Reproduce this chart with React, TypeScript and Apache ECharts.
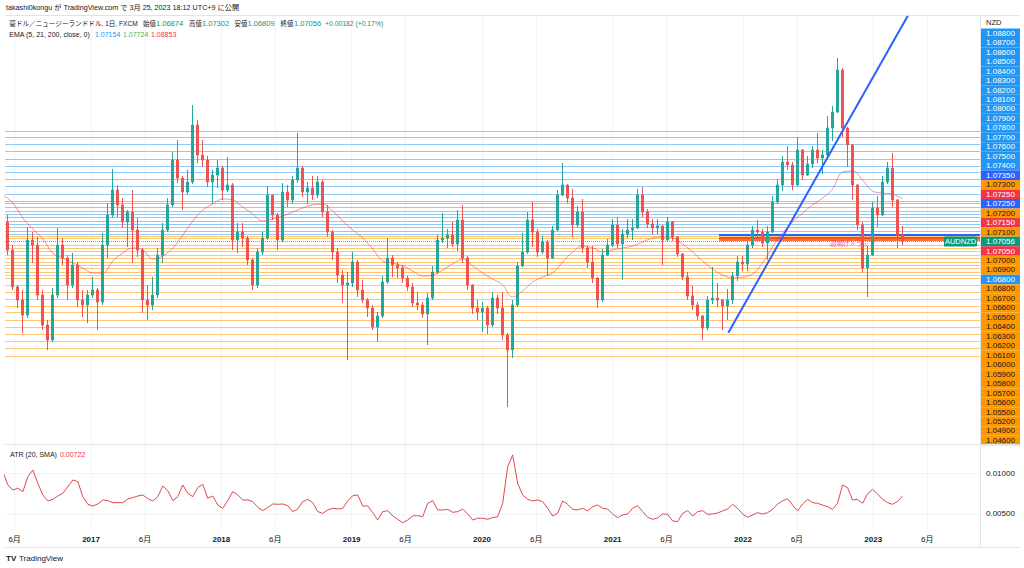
import React, { useEffect, useRef } from "react";
import * as echarts from "echarts";

// ---------- time frame ----------
const X_MIN = "2016-05-05";
const X_MAX = "2023-10-27";
const CANDLE_START = "2016-04-29";
const CANDLE_STEP_DAYS = 14;
const TIME_TICKS = [
  "2016-06-01", "2017-01-01", "2017-06-01", "2018-01-01", "2018-06-01",
  "2019-01-01", "2019-06-01", "2020-01-01", "2020-06-01", "2021-01-01",
  "2021-06-01", "2022-01-01", "2022-06-01", "2023-01-01", "2023-06-01",
];

// ---------- price data (biweekly candles) ----------
const OPEN = [
  1.0890, 1.0782, 1.0670, 1.0522, 1.0470, 1.0410, 1.0710, 1.0690, 1.0490, 1.0370,
  1.0310, 1.0490, 1.0690, 1.0638, 1.0530, 1.0610, 1.0470, 1.0450, 1.0490, 1.0510,
  1.0462, 1.0690, 1.0810, 1.0910, 1.0850, 1.0782, 1.0822, 1.0750, 1.0670, 1.0470,
  1.0450, 1.0490, 1.0650, 1.0750, 1.0850, 1.1030, 1.0958, 1.0902, 1.0942, 1.1170,
  1.1050, 1.1030, 1.0942, 1.0970, 1.0998, 1.0910, 1.0930, 1.0710, 1.0742, 1.0718,
  1.0630, 1.0530, 1.0662, 1.0718, 1.0890, 1.0810, 1.0710, 1.0902, 1.0870, 1.0950,
  1.0998, 1.0902, 1.0918, 1.0890, 1.0942, 1.0822, 1.0742, 1.0662, 1.0570, 1.0530,
  1.0538, 1.0622, 1.0510, 1.0470, 1.0438, 1.0362, 1.0406, 1.0542, 1.0638, 1.0610,
  1.0598, 1.0558, 1.0522, 1.0458, 1.0450, 1.0414, 1.0478, 1.0582, 1.0710, 1.0718,
  1.0730, 1.0694, 1.0790, 1.0638, 1.0530, 1.0438, 1.0422, 1.0438, 1.0370, 1.0478,
  1.0438, 1.0330, 1.0270, 1.0450, 1.0606, 1.0662, 1.0790, 1.0742, 1.0662, 1.0702,
  1.0638, 1.0750, 1.0890, 1.0930, 1.0878, 1.0770, 1.0822, 1.0678, 1.0622, 1.0558,
  1.0470, 1.0650, 1.0690, 1.0770, 1.0694, 1.0734, 1.0750, 1.0758, 1.0890, 1.0822,
  1.0774, 1.0758, 1.0766, 1.0710, 1.0782, 1.0722, 1.0654, 1.0562, 1.0486, 1.0450,
  1.0406, 1.0358, 1.0470, 1.0478, 1.0470, 1.0446, 1.0470, 1.0566, 1.0622, 1.0614,
  1.0690, 1.0750, 1.0742, 1.0698, 1.0742, 1.0862, 1.0930, 1.1022, 1.1010, 1.0930,
  1.1070, 1.0970, 1.1014, 1.1070, 1.1038, 1.1050, 1.1158, 1.1222, 1.1390, 1.1158,
  1.1090, 1.0930, 1.0770, 1.0598, 1.0650, 1.0838, 1.0810, 1.0942, 1.0998, 1.0870,
  1.0730,
];
const CLOSE = [
  1.0782, 1.0670, 1.0522, 1.0470, 1.0410, 1.0710, 1.0690, 1.0490, 1.0370, 1.0310,
  1.0490, 1.0690, 1.0638, 1.0530, 1.0610, 1.0470, 1.0450, 1.0490, 1.0510, 1.0462,
  1.0690, 1.0810, 1.0910, 1.0850, 1.0782, 1.0822, 1.0750, 1.0670, 1.0470, 1.0450,
  1.0490, 1.0650, 1.0750, 1.0850, 1.1030, 1.0958, 1.0902, 1.0942, 1.1170, 1.1050,
  1.1030, 1.0942, 1.0970, 1.0998, 1.0910, 1.0930, 1.0710, 1.0742, 1.0718, 1.0630,
  1.0530, 1.0662, 1.0718, 1.0890, 1.0810, 1.0710, 1.0902, 1.0870, 1.0950, 1.0998,
  1.0902, 1.0918, 1.0890, 1.0942, 1.0822, 1.0742, 1.0662, 1.0570, 1.0530, 1.0538,
  1.0622, 1.0510, 1.0470, 1.0438, 1.0362, 1.0406, 1.0542, 1.0638, 1.0610, 1.0598,
  1.0558, 1.0522, 1.0458, 1.0450, 1.0414, 1.0478, 1.0582, 1.0710, 1.0718, 1.0730,
  1.0694, 1.0790, 1.0638, 1.0530, 1.0438, 1.0422, 1.0438, 1.0370, 1.0478, 1.0438,
  1.0330, 1.0270, 1.0450, 1.0606, 1.0662, 1.0790, 1.0742, 1.0662, 1.0702, 1.0638,
  1.0750, 1.0890, 1.0930, 1.0878, 1.0770, 1.0822, 1.0678, 1.0622, 1.0558, 1.0470,
  1.0650, 1.0690, 1.0770, 1.0694, 1.0734, 1.0750, 1.0758, 1.0890, 1.0822, 1.0774,
  1.0758, 1.0766, 1.0710, 1.0782, 1.0722, 1.0654, 1.0562, 1.0486, 1.0450, 1.0406,
  1.0358, 1.0470, 1.0478, 1.0470, 1.0446, 1.0470, 1.0566, 1.0622, 1.0614, 1.0690,
  1.0750, 1.0742, 1.0698, 1.0742, 1.0862, 1.0930, 1.1022, 1.1010, 1.0930, 1.1070,
  1.0970, 1.1014, 1.1070, 1.1038, 1.1050, 1.1158, 1.1222, 1.1390, 1.1158, 1.1090,
  1.0930, 1.0770, 1.0598, 1.0650, 1.0838, 1.0810, 1.0942, 1.0998, 1.0870, 1.0730,
  1.0706,
];
const HIGH = [
  1.0930, 1.0810, 1.0690, 1.0530, 1.0510, 1.0762, 1.0742, 1.0722, 1.0510, 1.0390,
  1.0518, 1.0758, 1.0718, 1.0650, 1.0658, 1.0622, 1.0510, 1.0510, 1.0562, 1.0518,
  1.0738, 1.0858, 1.0994, 1.0930, 1.0878, 1.0830, 1.0910, 1.0798, 1.0678, 1.0530,
  1.0562, 1.0678, 1.0778, 1.0878, 1.1062, 1.1110, 1.0966, 1.0990, 1.1250, 1.1190,
  1.1110, 1.1046, 1.0990, 1.1030, 1.1006, 1.1042, 1.0938, 1.0778, 1.0778, 1.0726,
  1.0638, 1.0678, 1.0742, 1.0926, 1.0890, 1.0818, 1.0938, 1.0930, 1.0966, 1.1138,
  1.1006, 1.0942, 1.0966, 1.0966, 1.0950, 1.0850, 1.0750, 1.0678, 1.0590, 1.0582,
  1.0662, 1.0630, 1.0550, 1.0478, 1.0450, 1.0422, 1.0566, 1.0718, 1.0650, 1.0622,
  1.0610, 1.0566, 1.0538, 1.0502, 1.0462, 1.0498, 1.0606, 1.0730, 1.0818, 1.0754,
  1.0782, 1.0830, 1.0850, 1.0646, 1.0534, 1.0470, 1.0462, 1.0446, 1.0502, 1.0490,
  1.0502, 1.0338, 1.0470, 1.0622, 1.0738, 1.0822, 1.0862, 1.0754, 1.0726, 1.0710,
  1.0766, 1.0910, 1.1018, 1.0934, 1.0914, 1.0846, 1.0874, 1.0686, 1.0686, 1.0562,
  1.0674, 1.0714, 1.0794, 1.0802, 1.0754, 1.0794, 1.0794, 1.0914, 1.0922, 1.0834,
  1.0794, 1.0794, 1.0770, 1.0802, 1.0786, 1.0726, 1.0658, 1.0582, 1.0526, 1.0462,
  1.0410, 1.0486, 1.0602, 1.0538, 1.0474, 1.0514, 1.0582, 1.0646, 1.0646, 1.0714,
  1.0766, 1.0790, 1.0754, 1.0766, 1.0886, 1.0954, 1.1046, 1.1086, 1.1022, 1.1122,
  1.1074, 1.1046, 1.1086, 1.1138, 1.1070, 1.1206, 1.1246, 1.1438, 1.1398, 1.1162,
  1.1094, 1.0934, 1.0782, 1.0686, 1.0862, 1.0886, 1.0966, 1.1022, 1.1058, 1.0874,
  1.0766,
];
const LOW = [
  1.0758, 1.0650, 1.0510, 1.0438, 1.0338, 1.0398, 1.0618, 1.0470, 1.0350, 1.0270,
  1.0302, 1.0478, 1.0610, 1.0470, 1.0518, 1.0442, 1.0402, 1.0378, 1.0478, 1.0350,
  1.0450, 1.0638, 1.0798, 1.0802, 1.0758, 1.0682, 1.0618, 1.0642, 1.0418, 1.0390,
  1.0430, 1.0478, 1.0618, 1.0742, 1.0842, 1.0938, 1.0830, 1.0894, 1.0934, 1.1018,
  1.1002, 1.0922, 1.0858, 1.0918, 1.0870, 1.0902, 1.0670, 1.0658, 1.0682, 1.0610,
  1.0510, 1.0518, 1.0650, 1.0710, 1.0790, 1.0670, 1.0702, 1.0842, 1.0854, 1.0938,
  1.0882, 1.0854, 1.0870, 1.0878, 1.0802, 1.0722, 1.0630, 1.0538, 1.0458, 1.0230,
  1.0522, 1.0482, 1.0458, 1.0402, 1.0350, 1.0302, 1.0398, 1.0534, 1.0562, 1.0558,
  1.0538, 1.0506, 1.0442, 1.0430, 1.0398, 1.0290, 1.0470, 1.0574, 1.0698, 1.0678,
  1.0682, 1.0666, 1.0618, 1.0510, 1.0414, 1.0390, 1.0342, 1.0334, 1.0362, 1.0414,
  1.0310, 1.0042, 1.0238, 1.0442, 1.0602, 1.0654, 1.0682, 1.0642, 1.0654, 1.0570,
  1.0634, 1.0746, 1.0886, 1.0858, 1.0722, 1.0758, 1.0658, 1.0598, 1.0538, 1.0438,
  1.0462, 1.0646, 1.0682, 1.0678, 1.0550, 1.0718, 1.0710, 1.0754, 1.0802, 1.0758,
  1.0734, 1.0734, 1.0610, 1.0706, 1.0706, 1.0642, 1.0550, 1.0470, 1.0430, 1.0390,
  1.0310, 1.0350, 1.0454, 1.0442, 1.0350, 1.0390, 1.0454, 1.0546, 1.0586, 1.0586,
  1.0678, 1.0722, 1.0682, 1.0630, 1.0738, 1.0854, 1.0906, 1.0990, 1.0910, 1.0926,
  1.0950, 1.0966, 1.0998, 1.1018, 1.0974, 1.1046, 1.1106, 1.1218, 1.1122, 1.1002,
  1.0870, 1.0750, 1.0578, 1.0482, 1.0646, 1.0762, 1.0806, 1.0934, 1.0842, 1.0678,
  1.0690,
];
// EMA 200, one value for every second candle
const EMA200 = [
  1.0890, 1.0858, 1.0798, 1.0754, 1.0714, 1.0658, 1.0638, 1.0618, 1.0598, 1.0578,
  1.0578, 1.0626, 1.0658, 1.0678, 1.0670, 1.0634, 1.0646, 1.0678, 1.0730, 1.0786,
  1.0830, 1.0854, 1.0874, 1.0870, 1.0842, 1.0814, 1.0786, 1.0794, 1.0806, 1.0822,
  1.0838, 1.0850, 1.0854, 1.0826, 1.0786, 1.0750, 1.0718, 1.0674, 1.0626, 1.0618,
  1.0606, 1.0586, 1.0566, 1.0570, 1.0590, 1.0614, 1.0634, 1.0606, 1.0578, 1.0554,
  1.0530, 1.0482, 1.0506, 1.0542, 1.0562, 1.0578, 1.0622, 1.0662, 1.0686, 1.0678,
  1.0662, 1.0670, 1.0678, 1.0686, 1.0702, 1.0718, 1.0722, 1.0718, 1.0694, 1.0662,
  1.0626, 1.0594, 1.0570, 1.0558, 1.0562, 1.0574, 1.0618, 1.0682, 1.0738, 1.0782,
  1.0818, 1.0850, 1.0878, 1.0914, 1.0982, 1.0986, 1.0950, 1.0906, 1.0898, 1.0894,
  1.0874,
];
// ATR (20, SMA), one value per candle
const ATR20 = [
  0.0102, 0.00857, 0.00795, 0.00816, 0.00775, 0.00959, 0.0104, 0.00877, 0.00734, 0.0066,
  0.0068, 0.00721, 0.00754, 0.00836, 0.00918, 0.00898, 0.00713, 0.00619, 0.00598, 0.00623,
  0.00672, 0.00664, 0.00639, 0.00639, 0.00639, 0.00684, 0.00701, 0.00721, 0.00734, 0.00688,
  0.0066, 0.00713, 0.00844, 0.00787, 0.00664, 0.00713, 0.00857, 0.00754, 0.00713, 0.00824,
  0.00865, 0.00693, 0.00721, 0.0061, 0.0057, 0.00664, 0.00775, 0.00734, 0.00672, 0.00672,
  0.00652, 0.00582, 0.00541, 0.00578, 0.00623, 0.00619, 0.00623, 0.00602, 0.00529, 0.00561,
  0.00652, 0.0068, 0.00639, 0.00529, 0.00508, 0.00549, 0.0057, 0.00561, 0.0057, 0.0066,
  0.00725, 0.00734, 0.00598, 0.00598, 0.00516, 0.00426, 0.00529, 0.00541, 0.00475, 0.00434,
  0.00393, 0.00426, 0.00475, 0.00479, 0.00467, 0.00631, 0.00664, 0.00549, 0.00549, 0.00557,
  0.0052, 0.00529, 0.00561, 0.005, 0.00426, 0.00447, 0.00447, 0.00434, 0.00455, 0.00467,
  0.00631, 0.01082, 0.01226, 0.00877, 0.00734, 0.0068, 0.0066, 0.00672, 0.00652, 0.0057,
  0.00475, 0.00508, 0.0066, 0.00619, 0.00557, 0.00549, 0.0057, 0.00537, 0.0059, 0.0061,
  0.0057, 0.00561, 0.005, 0.00455, 0.00488, 0.005, 0.0057, 0.00602, 0.00529, 0.00459,
  0.00434, 0.00451, 0.005, 0.00496, 0.00414, 0.00406, 0.00508, 0.00541, 0.00475, 0.00529,
  0.00541, 0.00496, 0.005, 0.00512, 0.00537, 0.00561, 0.00619, 0.0057, 0.005, 0.00459,
  0.00488, 0.00516, 0.005, 0.00516, 0.00557, 0.00623, 0.0066, 0.00688, 0.0061, 0.00537,
  0.00623, 0.0068, 0.00639, 0.00631, 0.0061, 0.0059, 0.00557, 0.00631, 0.00857, 0.00824,
  0.00672, 0.0068, 0.00631, 0.00746, 0.00803, 0.00746, 0.0068, 0.00639, 0.00619, 0.00652,
  0.00722,
];
const ATR_GRID = [0.005, 0.01];

// ---------- drawings ----------
const BLUE_LEVELS = [
  1.1147, 1.1119, 1.1093, 1.1063, 1.1034, 1.1006, 1.0979, 1.0953, 1.0923, 1.0895,
  1.0867, 1.0856, 1.0841, 1.0827, 1.0814, 1.0801, 1.0787, 1.0774, 1.0761, 1.0747, 1.0734,
];
const ORANGE_LEVELS = [
  1.0727, 1.0717, 1.0690, 1.0677, 1.0663, 1.0650, 1.0637, 1.0623, 1.0610, 1.0597,
  1.0583, 1.0570, 1.0557, 1.0530, 1.0503, 1.0474, 1.0446, 1.0419, 1.0390, 1.0362,
  1.0333, 1.0305, 1.0277, 1.0247,
];
const ZONE_START = "2021-10-26";
const ZONE_LEVELS = [1.0730, 1.0721, 1.0711];
const ZONE_COLORS = ["#2962ff", "#f4511e", "#ff7043"];
const TREND_DATES = ["2021-11-21", "2023-04-09"];
const TREND_PRICES = [1.0339, 1.1610];
const LAST_PRICE = 1.07056;

// ---------- price scale tags ----------
const SCALE_LABELS = [
  "1.08800", "1.08700", "1.08600", "1.08500", "1.08400", "1.08300", "1.08200", "1.08100",
  "1.08000", "1.07900", "1.07800", "1.07700", "1.07600", "1.07500", "1.07400", "1.07350",
  "1.07300", "1.07250", "1.07250", "1.07200", "1.07150", "1.07100", "1.07056", "1.07050",
  "1.07000", "1.06900", "1.06800", "1.06800", "1.06700", "1.06600", "1.06500", "1.06400",
  "1.06300", "1.06200", "1.06100", "1.06000", "1.05900", "1.05800", "1.05700", "1.05600",
  "1.05500", "1.05200", "1.04900", "1.04600",
];
const SCALE_KINDS = [
  "b", "b", "b", "b", "b", "b", "b", "b", "b", "b", "b", "b", "b", "b", "b", "d",
  "o", "r", "d", "o", "r", "o", "g", "r", "o", "o", "b", "o", "o", "o", "o", "o",
  "o", "o", "o", "o", "o", "o", "o", "o", "o", "o", "o", "o",
];

// ---------- texts ----------
const PUBLISH_TEXT = "takashi0kongu が TradingView.com で 3月 25, 2023 18:12 UTC+9 に公開";
const SYMBOL_TEXT = "豪ドル／ニュージーランドドル, 1日, FXCM";
const OHLC_NAMES = ["始値", "高値", "安値", "終値"];
const OHLC_VALUES = ["1.06874", "1.07302", "1.06809", "1.07056"];
const CHANGE_TEXT = "+0.00182 (+0.17%)";
const EMA_TEXT = "EMA (5, 21, 200, close, 0)";
const EMA_VALUES = ["1.07154", "1.07724", "1.08853"];
const EMA_COLORS = ["#2196f3", "#4caf50", "#f23645"];
const ATR_TEXT = "ATR (20, SMA)";
const ATR_LAST = "0.00722";
const NOTE_TEXT = "週明けトラップ";

const FONT = "'Liberation Sans', Arial, 'Noto Sans CJK JP', sans-serif";
const UP = "#26a69a";
const DOWN = "#ef5350";
const TEXT = "#131722";
const VALUE_GREEN = "#089981";

const utc = (s: string) => {
  const [y, m, d] = s.split("-").map(Number);
  return Date.UTC(y, m - 1, d);
};

export default function App() {
  const ref = useRef<HTMLDivElement>(null);

  useEffect(() => {
    if (!ref.current) return;
    const chart = echarts.init(ref.current, undefined, { renderer: "svg" });

    const DAY = 86400000;
    const start = utc(CANDLE_START);
    const dates = OPEN.map((_, i) => start + i * CANDLE_STEP_DAYS * DAY);
    const halfDates = dates.filter((_, i) => i % 2 === 0);
    const xMin = utc(X_MIN);
    const xMax = utc(X_MAX);
    const ticks = TIME_TICKS.map(utc);

    const candleData = dates.map((t, i) => [t, OPEN[i], CLOSE[i], LOW[i], HIGH[i]]);
    const emaData = halfDates.map((t, i) => [t, EMA200[i]]);
    const atrData = dates.map((t, i) => [t, ATR20[i]]);
    const trendData = TREND_DATES.map((d, i) => [utc(d), TREND_PRICES[i]]);

    const levelLines: any[] = [
      ...BLUE_LEVELS.map((v) => ({ yAxis: v, lineStyle: { color: "rgba(33,150,243,0.5)", width: 1, type: "solid" } })),
      ...ORANGE_LEVELS.map((v) => ({ yAxis: v, lineStyle: { color: "rgba(255,152,0,0.55)", width: 1, type: "solid" } })),
      { yAxis: LAST_PRICE, lineStyle: { color: "#9598a1", width: 1, type: "dotted" } },
      ...ZONE_LEVELS.map((v, i) => [
        { coord: [utc(ZONE_START), v], lineStyle: { color: ZONE_COLORS[i], width: 2, type: "solid" } },
        { coord: [xMax, v] },
      ]),
    ];

    const scaleRich: any = {};
    const kinds: Record<string, [string, string]> = {
      b: ["#2196f3", "#ffffff"],
      d: ["#2962ff", "#ffffff"],
      o: ["#ff9800", TEXT],
      r: ["#f23645", "#ffffff"],
      g: ["#089981", "#ffffff"],
    };
    Object.keys(kinds).forEach((k) => {
      scaleRich[k] = {
        backgroundColor: kinds[k][0],
        color: kinds[k][1],
        width: 39,
        height: 9.47,
        lineHeight: 9.47,
        align: "center",
        fontSize: 8,
        fontFamily: FONT,
      };
    });

    const txt = (x: number, y: number, text: string, fill: string, fontSize: number, extra: any = {}) => ({
      type: "text", z: 60, x, y, silent: true,
      style: { text, fill, fontSize, fontFamily: FONT, verticalAlign: "middle", ...extra },
    });

    const OHLC_NAME_X = [143, 189, 234.5, 280.5];
    const OHLC_VALUE_X = [156, 202, 247.5, 294];
    const EMA_VALUE_X = [95, 123, 151];

    const border = "#e0e3eb";
    const hline = (y: number, x1: number, x2: number) => ({
      type: "line", silent: true, z: 50,
      shape: { x1, y1: y, x2, y2: y }, style: { stroke: border, lineWidth: 1 },
    });

    const timeAxisCommon = {
      type: "value",
      min: xMin,
      max: xMax,
      axisLine: { show: false },
      axisTick: { show: false, customValues: ticks },
      splitLine: { show: true, lineStyle: { color: "#f0f3fa", width: 1 } },
    };

    chart.setOption({
      animation: false,
      backgroundColor: "#ffffff",
      textStyle: { fontFamily: FONT },
      grid: [
        { left: 5, top: 15, width: 975, height: 430, containLabel: false, outerBoundsMode: "none" },
        { left: 5, top: 445, width: 975, height: 85, containLabel: false, outerBoundsMode: "none" },
        { left: 981, top: 28.5, width: 39, height: 416.7, containLabel: false, outerBoundsMode: "none" },
      ],
      xAxis: [
        { ...timeAxisCommon, gridIndex: 0, axisLabel: { show: false, customValues: ticks } },
        {
          ...timeAxisCommon,
          gridIndex: 1,
          axisLabel: {
            show: true,
            customValues: ticks,
            margin: 5,
            formatter: (v: number) => {
              const d = new Date(v);
              return d.getUTCMonth() === 0 ? `{y|${d.getUTCFullYear()}}` : `{m|${d.getUTCMonth() + 1}月}`;
            },
            rich: {
              y: { fontSize: 8, fontWeight: "bold", color: TEXT, fontFamily: FONT },
              m: { fontSize: 8, color: TEXT, fontFamily: FONT },
            },
          },
        },
        { type: "value", gridIndex: 2, show: false },
      ],
      yAxis: [
        { type: "value", gridIndex: 0, min: 0.989, max: 1.161, show: false, splitLine: { show: false } },
        {
          type: "value",
          gridIndex: 1,
          position: "right",
          min: 0.00303,
          max: 0.01348,
          axisLine: { show: false },
          axisTick: { show: false, customValues: ATR_GRID },
          splitLine: { show: false },
          axisLabel: {
            customValues: ATR_GRID,
            margin: 6,
            fontSize: 8,
            color: TEXT,
            fontFamily: FONT,
            formatter: (v: number) => v.toFixed(5),
          },
        },
        {
          type: "category",
          gridIndex: 2,
          inverse: true,
          data: SCALE_LABELS.map((_, i) => String(i)),
          axisLine: { show: false },
          axisTick: { show: false },
          splitLine: { show: false },
          axisLabel: {
            interval: 0,
            inside: true,
            margin: 0,
            formatter: (_v: string, i: number) => `{${SCALE_KINDS[i]}|${SCALE_LABELS[i]}}`,
            rich: scaleRich,
          },
        },
      ],
      series: [
        {
          name: "AUDNZD",
          type: "candlestick",
          xAxisIndex: 0,
          yAxisIndex: 0,
          data: candleData,
          encode: { x: 0, y: [1, 2, 3, 4] },
          barWidth: 2.6,
          z: 2,
          itemStyle: { color: UP, color0: DOWN, borderColor: UP, borderColor0: DOWN, borderWidth: 1 },
          markLine: {
            silent: true,
            z: 1,
            precision: 5,
            symbol: ["none", "none"],
            label: { show: false },
            emphasis: { disabled: true },
            data: levelLines,
          },
        },
        {
          name: "EMA200",
          type: "line",
          xAxisIndex: 0,
          yAxisIndex: 0,
          data: emaData,
          showSymbol: false,
          smooth: 0.4,
          z: 3,
          lineStyle: { color: "rgba(242,54,69,0.55)", width: 1 },
        },
        {
          name: "Trend",
          type: "line",
          xAxisIndex: 0,
          yAxisIndex: 0,
          data: trendData,
          showSymbol: false,
          z: 4,
          lineStyle: { color: "#2962ff", width: 2 },
        },
        {
          name: "ATR",
          type: "line",
          xAxisIndex: 1,
          yAxisIndex: 1,
          data: atrData,
          showSymbol: false,
          z: 3,
          lineStyle: { color: "#e0474c", width: 1 },
          markLine: {
            silent: true,
            z: 1,
            precision: 5,
            symbol: ["none", "none"],
            label: { show: false },
            lineStyle: { color: "#f0f3fa", width: 1, type: "solid" },
            data: ATR_GRID.map((v) => ({ yAxis: v })),
          },
        },
      ],
      graphic: {
        elements: [
          hline(15.5, 5, 1020),
          hline(444.5, 5, 1020),
          hline(547.5, 5, 1020),
          {
            type: "line", silent: true, z: 50,
            shape: { x1: 980.5, y1: 15, x2: 980.5, y2: 548 },
            style: { stroke: border, lineWidth: 1 },
          },
          txt(6, 7.5, PUBLISH_TEXT, TEXT, 7.2),
          txt(9.3, 23.5, SYMBOL_TEXT, TEXT, 6.6),
          ...OHLC_NAMES.map((n, i) => txt(OHLC_NAME_X[i], 23.5, n, TEXT, 6.4)),
          ...OHLC_VALUES.map((v, i) => txt(OHLC_VALUE_X[i], 23.5, v, VALUE_GREEN, 7.5)),
          txt(325, 23.5, CHANGE_TEXT, VALUE_GREEN, 6.8),
          txt(9.3, 34, EMA_TEXT, TEXT, 7),
          ...EMA_VALUES.map((v, i) => txt(EMA_VALUE_X[i], 34, v, EMA_COLORS[i], 7)),
          txt(10, 454, ATR_TEXT, TEXT, 7),
          txt(60, 454, ATR_LAST, "#f23645", 7),
          txt(986, 22, "NZD", TEXT, 7.5),
          {
            type: "rect", z: 60, silent: true, shape: { x: 944, y: 236.5, width: 33, height: 10, r: 1 },
            style: { fill: VALUE_GREEN },
          },
          txt(960.5, 241.5, "AUDNZD", "#ffffff", 7.5, { align: "center" }),
          txt(830, 243, NOTE_TEXT, "rgba(233,30,99,0.75)", 6.5),
          txt(6, 558, "TV", TEXT, 8, { fontWeight: 900 }),
          txt(19, 558, "TradingView", TEXT, 8),
        ],
      },
    });

    return () => chart.dispose();
  }, []);

  return (
    <div
      ref={ref}
      style={{ position: "fixed", left: 0, top: 0, width: 1024, height: 568, background: "#ffffff" }}
    />
  );
}
